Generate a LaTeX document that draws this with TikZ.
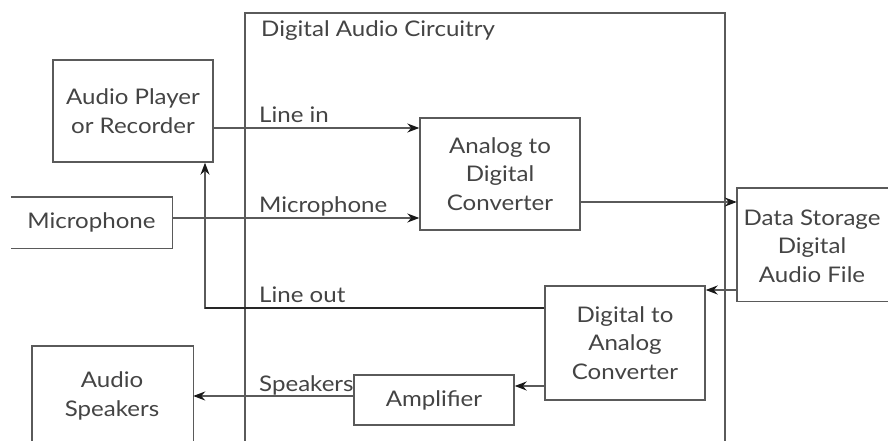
\documentclass[tikz,border=0pt]{standalone}
\usepackage{fontspec}
\setmainfont{Lato}[FakeStretch=1.12]
\usetikzlibrary{arrows.meta,calc}
\definecolor{ln}{HTML}{5A5A5A}
\definecolor{tx}{HTML}{444444}
\tikzset{
  box/.style={draw=ln, line width=1.4pt, align=center, inner sep=0pt, text=tx},
  openbox/.style={align=center, inner sep=0pt, text=tx},
  lbl/.style={anchor=base west, inner sep=0pt, text=tx},
  wire/.style={draw=ln, line width=1.4pt},
  arr/.style={wire, -{Stealth[length=12pt,width=9pt,color=black!90]}},
}
\begin{document}
\begin{tikzpicture}[x=1pt,y=-1pt, font=\fontsize{21.5}{28.5}\selectfont]
\useasboundingbox[fill=white] (0,0) rectangle (888,441);
% big box
\coordinate (bbtl) at (245,13);
\coordinate (bbbr) at (725,441);
\draw[wire] (bbtl |- bbbr) -- (bbtl) -- (bbbr |- bbtl) -- (bbbr);
\node[lbl] (title) at (261,37) {Digital Audio Circuitry};
% boxes
\node[box, minimum width=160pt, minimum height=102pt] (player) at (133,111) {Audio Player\\or Recorder};
\node[box, minimum width=160pt, minimum height=112pt] (adc) at (500,174) {Analog to\\Digital\\Converter};
\node[box, minimum width=160pt, minimum height=114pt] (dac) at (625,343) {Digital to\\Analog\\Converter};
\node[box, minimum width=160pt, minimum height=50pt] (amp) at (434,400) {Amplifier};
% open boxes
\node[openbox, minimum width=161pt, minimum height=51pt] (mic) at (91.5,222.5) {Microphone};
\draw[wire] (mic.north west) -- (mic.north east) -- (mic.south east) -- (mic.south west);
\node[openbox, minimum width=170pt, minimum height=113pt] (store) at (822,244.5) {};
\node[openbox] (storetxt) at (812,246) {Data Storage\\Digital\\Audio File};
\draw[wire] (store.north east) -- (store.north west) -- (store.south west) -- (store.south east);
\node[openbox, minimum width=161pt, minimum height=120pt] (spk) at (112.5,406) {};
\node[openbox] (spktxt) at (112,396) {Audio\\Speakers};
\draw[wire] (spk.south west) -- (spk.north west) -- (spk.north east) -- (spk.south east);
% connectors
\draw[arr] (player.east |- 0,128) -- (adc.west |- 0,128);
\node[lbl] (linein) at (259,123) {Line in};
\draw[arr] (mic.east |- 0,218) -- (adc.west |- 0,218);
\node[lbl] (micl) at (259,212) {Microphone};
\draw[arr] (adc.east |- 0,202) -- (store.west |- 0,202);
\draw[arr] (store.west |- 0,290) -- (dac.east |- 0,290);
\coordinate (lo) at (205,308);
\draw[arr] (dac.west |- lo) -- (lo) -- (player.south -| lo);
\draw[draw=black!85, line width=1.4pt] (dac.west |- lo) -- (lo);
\node[lbl] (lineout) at (259,302) {Line out};
\draw[arr] (dac.west |- 0,386) -- (amp.east |- 0,386);
\draw[arr] (amp.west |- 0,396) -- (spk.east |- 0,396);
\node[lbl] (spkl) at (259,391) {Speakers};
\end{tikzpicture}
\end{document}
